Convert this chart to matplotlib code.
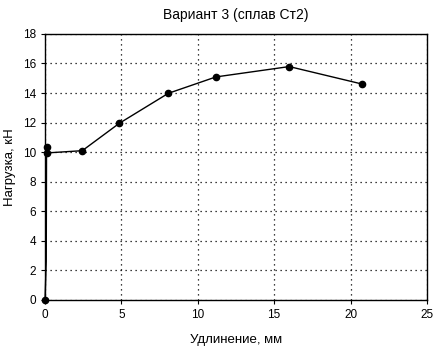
import numpy as np
import matplotlib
matplotlib.use("Agg")
import matplotlib.pyplot as plt

plt.rcParams['font.family'] = ['Liberation Sans', 'DejaVu Sans']

# elongation, mm / load, kN
elong = [0.0, 0.08, 0.1, 0.15, 2.44, 4.86, 8.07, 11.19, 15.99, 20.75]
load = [0.0, 2.6, 10.35, 9.95, 10.1, 11.95, 13.98, 15.09, 15.79, 14.61]
marked = [0, 2, 3, 4, 5, 6, 7, 8, 9]

xticks = [0, 5, 10, 15, 20, 25]
yticks = [0, 2, 4, 6, 8, 10, 12, 14, 16, 18]

fig = plt.figure(figsize=(4.47, 3.46), dpi=100)
ax = fig.add_axes([0.1007, 0.133, 0.8543, 0.769])

ax.plot(elong, load, color='black', lw=1, marker='o', ms=4.5,
        markevery=marked, clip_on=False, zorder=3)

ax.set_xlim(0, 25)
ax.set_ylim(0, 18)
ax.set_xticks(xticks)
ax.set_yticks(yticks)
ax.grid(True, color='black', linestyle=(0, (1, 3)), lw=0.9)
ax.tick_params(labelsize=8.5, length=3, direction='out', colors='black')
for s in ax.spines.values():
    s.set_linewidth(1)

ax.set_title('Вариант 3 (сплав Ст2)', fontsize=10, pad=11)
ax.set_xlabel('Удлинение, мм', fontsize=9.5, labelpad=9)
ax.set_ylabel('Нагрузка, кН', fontsize=9.5, labelpad=5)

fig.savefig('out.png', dpi=100)
